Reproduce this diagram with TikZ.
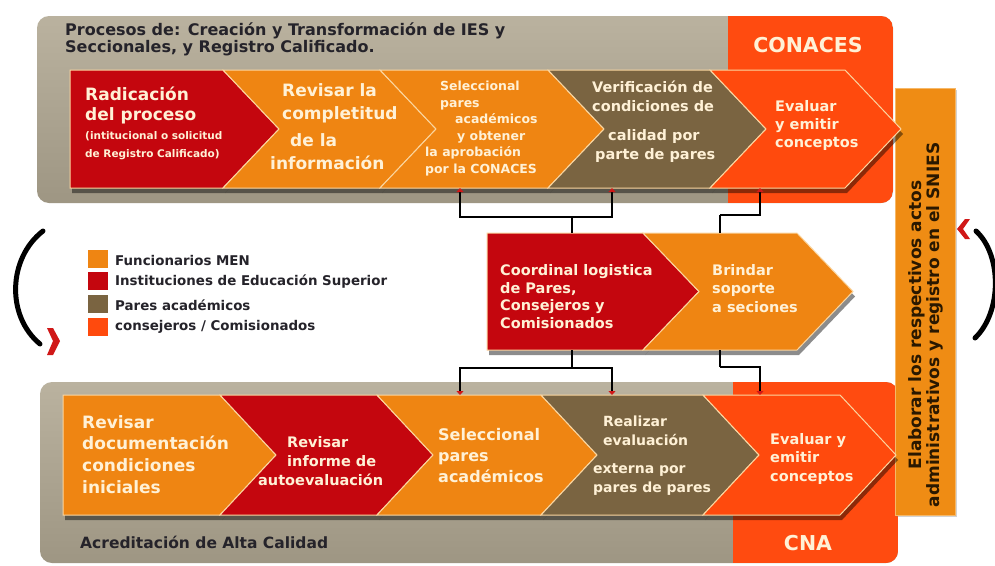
\documentclass[tikz,border=0pt]{standalone}
\usepackage{fontspec}
\setmainfont{DejaVu Sans}
\usetikzlibrary{arrows.meta,shadows,calc}
\definecolor{ies}{HTML}{C4060E}
\definecolor{men}{HTML}{EF8512}
\definecolor{pares}{HTML}{7A6441}
\definecolor{cons}{HTML}{FF4A0D}
\definecolor{panelT}{HTML}{BAB29F}
\definecolor{panelB}{HTML}{9E9683}
\definecolor{conaces}{HTML}{FF4B10}
\definecolor{barc}{HTML}{EF8C14}
\definecolor{cream}{HTML}{FFF1D6}
\definecolor{edge}{HTML}{FBD6A0}
\definecolor{tipred}{HTML}{D01818}
\definecolor{dtext}{HTML}{25232A}
\definecolor{bartext}{HTML}{2A1800}
\newcommand{\fs}[2]{\fontsize{#1}{#2}\selectfont}
\newcommand{\chevbox}[5]{%
  \node[chevnode,minimum width={(#3-#2)*1pt},minimum height={(#5-#4)*1pt}] (#1) at ({(#2+#3)/2},{(#4+#5)/2}) {};}
\newcommand{\chevfill}[3]{%
  \path[#3] (#1.north west) -- (#1.north east) -- ([xshift=56pt]#1.east) -- (#1.south east) -- (#1.south west) -- ([xshift={#2*56pt}]#1.west) -- cycle;}
\begin{document}
\begin{tikzpicture}[x=1pt,y=-1pt,
  chevnode/.style={inner sep=0pt,outer sep=0pt,draw=none},
  chevstyle/.style={fill=#1,draw=edge,line width=1pt,line join=miter},
  shadowstyle/.style={fill=black,fill opacity=.45},
  wt/.style={text=cream,font=\bfseries,inner sep=0pt,align=left,anchor=west},
  dt/.style={text=dtext,font=\bfseries,inner sep=0pt,align=left,anchor=west},
  conn/.style={line width=1.6pt,draw=black},
  arr/.style={conn,-{Triangle[length=4pt,width=7pt,color=tipred]}},
  legsq/.style={minimum width=20pt,minimum height=18pt,inner sep=0pt,fill=#1},
  curvearc/.style={line width=5pt,line cap=round,draw=black},
  redhead/.style={fill=tipred}]
\useasboundingbox[fill=white] (0,0) rectangle (995,565);

% ---------- top panel ----------
\begin{scope}
  \clip[rounded corners=12pt] (37,16) rectangle (893,203);
  \shade[top color=panelT,bottom color=panelB] (37,16) rectangle (893,203);
  \fill[conaces] (728,16) rectangle (893,203);
\end{scope}
\node[dt,font=\bfseries\fs{16}{17.5}] (title) at (65,39.5) {Procesos de: Creación y Transformación de IES y\\Seccionales, y Registro Calificado.};
\node[text=cream,font=\bfseries\fs{20.5}{22},inner sep=0pt] (conacesT) at (808,45) {CONACES};

% ---------- bottom panel ----------
\begin{scope}
  \clip[rounded corners=12pt] (40,382) rectangle (898,563);
  \shade[top color=panelT,bottom color=panelB] (40,382) rectangle (898,563);
  \fill[conaces] (733,382) rectangle (898,563);
\end{scope}
\node[dt,font=\bfseries\fs{15.5}{17}] (acred) at (80,542) {Acreditación de Alta Calidad};
\node[text=cream,font=\bfseries\fs{20.5}{22},inner sep=0pt] (cnaT) at (808,543) {CNA};

% ---------- right bar ----------
\node[fill=barc,draw=edge!60!barc,line width=1pt,minimum width=60pt,minimum height=427pt,inner sep=0pt,
      drop shadow={shadow xshift=2pt,shadow yshift=-2pt,opacity=.35}] (bar) at (925,301.5) {};
\node[rotate=90,text=bartext,font=\bfseries\fs{17}{18},align=center,inner sep=0pt] (barT) at (926,325)
  {Elaborar los respectivos actos\\administrativos y registro en el SNIES};

% ---------- chevron boxes ----------
\chevbox{T1}{70}{223}{70}{188}
\chevbox{T2}{223}{380}{70}{188}
\chevbox{T3}{380}{548}{70}{188}
\chevbox{T4}{548}{710}{70}{188}
\chevbox{T5}{710}{845}{70}{188}
\chevbox{M1}{487}{643}{233}{350}
\chevbox{M2}{643}{797}{233}{350}
\chevbox{B1}{63}{220}{395}{515}
\chevbox{B2}{220}{377}{395}{515}
\chevbox{B3}{377}{541}{395}{515}
\chevbox{B4}{541}{703}{395}{515}
\chevbox{B5}{703}{840}{395}{515}

% shadows
\begin{scope}[transform canvas={shift={(2pt,-5pt)}}]
  \chevfill{T1}{0}{shadowstyle}\chevfill{T2}{1}{shadowstyle}\chevfill{T3}{1}{shadowstyle}
  \chevfill{T4}{1}{shadowstyle}\chevfill{T5}{1}{shadowstyle}
  \chevfill{M1}{0}{shadowstyle}\chevfill{M2}{1}{shadowstyle}
  \chevfill{B1}{0}{shadowstyle}\chevfill{B2}{1}{shadowstyle}\chevfill{B3}{1}{shadowstyle}
  \chevfill{B4}{1}{shadowstyle}\chevfill{B5}{1}{shadowstyle}
\end{scope}
% fills
\chevfill{T1}{0}{chevstyle=ies}
\chevfill{T2}{1}{chevstyle=men}
\chevfill{T3}{1}{chevstyle=men}
\chevfill{T4}{1}{chevstyle=pares}
\chevfill{T5}{1}{chevstyle=cons}
\chevfill{M1}{0}{chevstyle=ies}
\chevfill{M2}{1}{chevstyle=men}
\chevfill{B1}{0}{chevstyle=men}
\chevfill{B2}{1}{chevstyle=ies}
\chevfill{B3}{1}{chevstyle=men}
\chevfill{B4}{1}{chevstyle=pares}
\chevfill{B5}{1}{chevstyle=cons}

% ---------- chevron texts ----------
\node[wt,font=\bfseries\fs{17}{20}] (t1a) at (85,105) {Radicación\\del proceso};
\node[wt,font=\bfseries\fs{10.5}{18}] (t1b) at (85,146) {(intitucional o solicitud\\de Registro Calificado)};
\node[wt,font=\bfseries\fs{17}{23}] (t2) at (270,126.5) {\hspace*{12pt}Revisar la\\\hspace*{12pt}completitud\\[4pt]\hspace*{20pt}de la\\información};
\node[wt,font=\bfseries\fs{12.5}{16.6}] (t3) at (425,128.5) {\hspace*{15pt}Seleccional\\\hspace*{15pt}pares\\\hspace*{30pt}académicos\\\hspace*{32pt}y obtener\\la aprobación\\por la CONACES};
\node[wt,font=\bfseries\fs{14.5}{18.5}] (t4) at (592,121.5) {Verificación de\\condiciones de\\[11pt]\hspace*{16pt}calidad por\\\hspace*{3pt}parte de pares};
\node[wt,font=\bfseries\fs{14.5}{18}] (t5) at (775,125) {Evaluar\\y emitir\\conceptos};

\node[wt,font=\bfseries\fs{14.5}{17.7}] (m1) at (500,296.5) {Coordinal logistica\\de Pares,\\Consejeros y\\Comisionados};
\node[wt,font=\bfseries\fs{14.5}{18.5}] (m2) at (712,288.5) {Brindar\\soporte\\a seciones};

\node[wt,font=\bfseries\fs{17}{21.7}] (b1) at (82,454.5) {Revisar\\documentación\\condiciones\\iniciales};
\node[wt,font=\bfseries\fs{14.5}{19}] (b2) at (258,461) {\hspace*{29pt}Revisar\\\hspace*{29pt}informe de\\autoevaluación};
\node[wt,font=\bfseries\fs{16}{21}] (b3) at (438,456) {Seleccional\\pares\\académicos};
\node[wt,font=\bfseries\fs{14}{19}] (b4) at (593,455.5) {\hspace*{10pt}Realizar\\\hspace*{10pt}evaluación\\[9pt]externa por\\pares de pares};
\node[wt,font=\bfseries\fs{14.5}{18.5}] (b5) at (770,458.5) {Evaluar y\\emitir\\conceptos};

% ---------- connectors ----------
\coordinate (xa) at (460,0);
\coordinate (xb) at (612,0);
\coordinate (xc) at (572,0);
\coordinate (xd) at (720,0);
\coordinate (xe) at (760,0);
\coordinate (ju) at (572,217);
\coordinate (jr) at (720,215);
\coordinate (jd) at (572,368);
\coordinate (jl) at (720,367);
\draw[conn] (M1.north -| xc) -- (ju);
\draw[arr] (ju) -| (T3.south -| xa);
\draw[arr] (ju) -| (T4.south -| xb);
\draw[conn] (M2.north -| xd) -- (jr);
\draw[arr] (jr) -| (T5.south -| xe);
\draw[conn] (M1.south -| xc) -- (jd);
\draw[arr] (jd) -| (B3.north -| xa);
\draw[arr] (jd) -| (B4.north -| xb);
\draw[conn] (M2.south -| xd) -- (jl);
\draw[arr] (jl) -| (B5.north -| xe);

% ---------- legend ----------
\node[legsq=men] (q1) at (98,259) {};
\node[legsq=ies] (q2) at (98,281) {};
\node[legsq=pares] (q3) at (98,304) {};
\node[legsq=cons] (q4) at (98,327) {};
\node[dt,font=\bfseries\fs{13.4}{15}] (l1) at (115,260) {Funcionarios MEN};
\node[dt,font=\bfseries\fs{13.4}{15}] (l2) at (115,282) {Instituciones de Educación Superior};
\node[dt,font=\bfseries\fs{13.4}{15}] (l3) at (115,305) {Pares académicos};
\node[dt,font=\bfseries\fs{13.4}{15}] (l4) at (115,327) {consejeros / Comisionados};

% ---------- side curved arrows ----------
\draw[curvearc] (43,231) .. controls (8,258) and (6,316) .. (40,344);
\fill[redhead] (47,328) -- (53,328) -- (60,341) -- (53,355) -- (47,355) -- (53,341) -- cycle;
\draw[curvearc] (976,231) .. controls (1002,255) and (1002,312) .. (975,338);
\fill[redhead] (970,219) -- (965,219) -- (957,229) -- (965,239) -- (970,239) -- (963,229) -- cycle;
\end{tikzpicture}
\end{document}
